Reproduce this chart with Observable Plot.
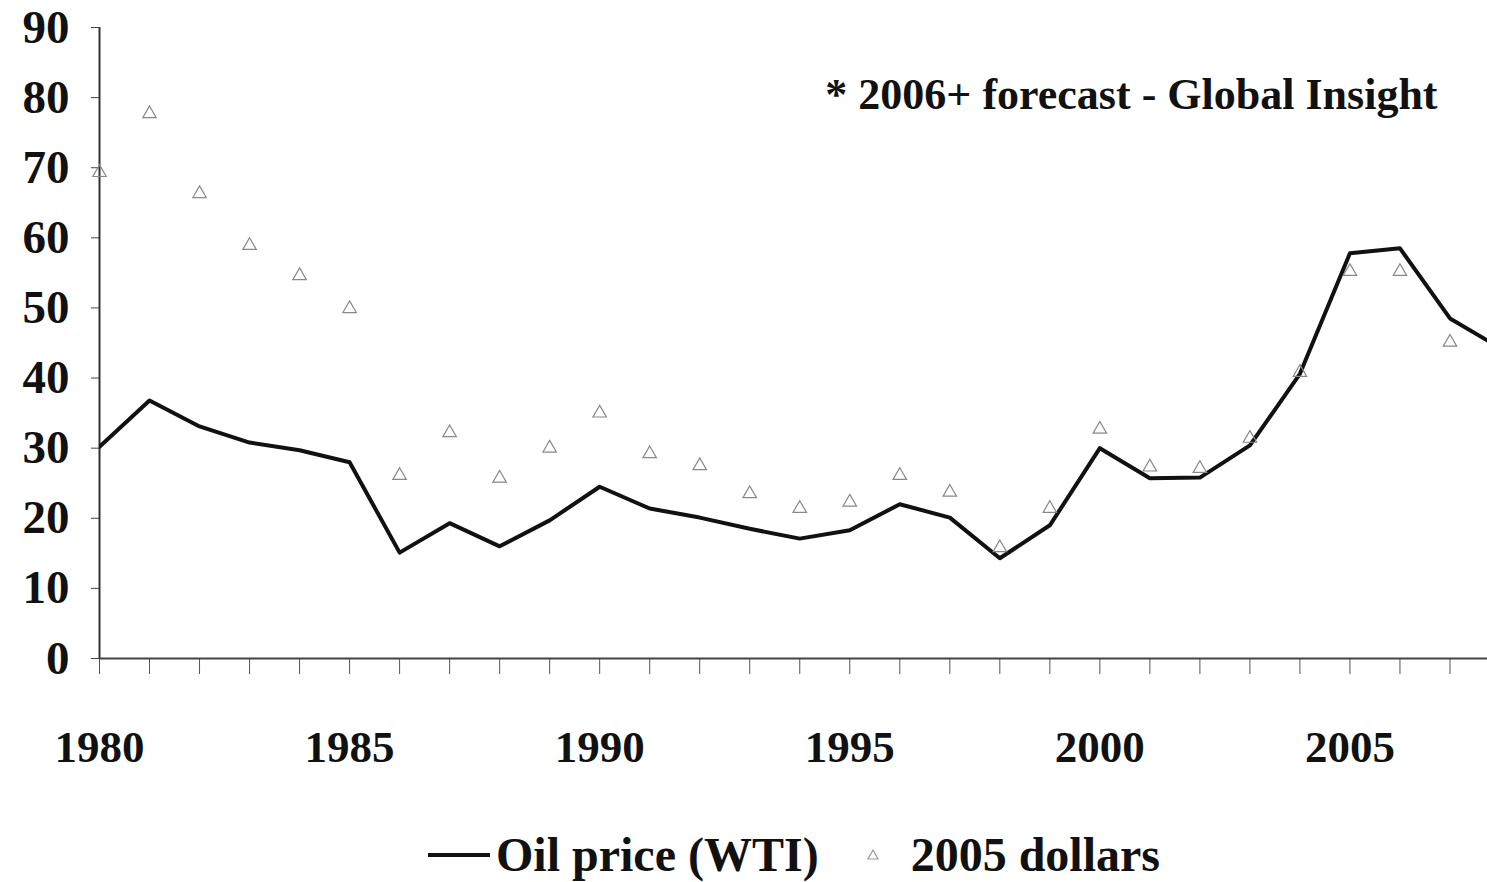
<!DOCTYPE html>
<html>
<head>
<meta charset="utf-8">
<script src="https://cdn.jsdelivr.net/npm/d3@7"></script>
<script src="https://cdn.jsdelivr.net/npm/@observablehq/plot@0.6"></script>
<style>
  html, body { margin: 0; padding: 0; background: #fff; overflow: hidden; }
  #chart { width: 1487px; height: 800px; }
  .legend { box-sizing: border-box; display: flex; justify-content: flex-start; align-items: center; height: 82px;
    padding-left: 426px; padding-top: 28px; line-height: 50px;
    font-family: "Liberation Serif", "Times New Roman", serif; font-weight: bold; font-size: 48px; color: #111; }
  .legend .item { display: flex; align-items: center; }
</style>
</head>
<body>
<div id="chart"></div>
<div class="legend">
  <span class="item"><svg width="70" height="20"><line x1="2" y1="10" x2="64" y2="10" stroke="#111" stroke-width="4"/></svg><span>Oil price (WTI)</span></span>
  <span class="item" style="margin-left:42px"><svg width="24" height="20"><path d="M12,5 L17,14 L7,14 Z" fill="none" stroke="#999" stroke-width="1.2"/></svg><span style="margin-left:26px">2005 dollars</span></span>
</div>
<script>
const years = d3.range(1980, 2009);
const wti = [30.2, 36.8, 33.1, 30.8, 29.7, 28.0, 15.1, 19.3, 16.0, 19.7, 24.5, 21.4, 20.1, 18.5, 17.1, 18.3, 22.0, 20.1, 14.3, 19.0, 30.0, 25.7, 25.8, 30.4, 40.6, 57.8, 58.5, 48.5, 44.3];
const realYears = d3.range(1980, 2008);
const real2005 = [69.3, 77.7, 66.3, 58.9, 54.6, 49.9, 26.1, 32.2, 25.7, 30.0, 35.0, 29.2, 27.5, 23.5, 21.4, 22.3, 26.1, 23.7, 15.8, 21.4, 32.7, 27.3, 27.1, 31.4, 40.8, 55.2, 55.2, 45.1];
const yTicks = [0, 10, 20, 30, 40, 50, 60, 70, 80, 90];
const xLabelTicks = [1980, 1985, 1990, 1995, 2000, 2005];
const note = "* 2006+ forecast - Global Insight";

const lineData = years.map((y, i) => ({year: y, value: wti[i]}));
const dotData = realYears.map((y, i) => ({year: y, value: real2005[i]}));

const chart = Plot.plot({
  width: 1487,
  height: 800,
  marginLeft: 99,
  marginRight: 0,
  marginTop: 27,
  marginBottom: 142,
  style: {fontFamily: "'Liberation Serif', 'Times New Roman', serif", fontWeight: "bold", color: "#111", background: "#fff"},
  x: {domain: [1980, 2007.75]},
  y: {domain: [0, 90]},
  marks: [
    Plot.axisY({ticks: yTicks, tickSize: 8, tickPadding: 22, fontSize: 47, stroke: "#444", label: null}),
    Plot.axisX({ticks: realYears, tickSize: 16, tickFormat: () => "", stroke: "#555", label: null}),
    Plot.axisX({ticks: xLabelTicks, tickSize: 0, tickPadding: 72, fontSize: 45, tickFormat: d => String(d), label: null}),
    Plot.ruleY([0], {stroke: "#444", strokeWidth: 2}),
    Plot.ruleX([1980], {stroke: "#333", strokeWidth: 2}),
    Plot.line(lineData, {x: "year", y: "value", stroke: "#111", strokeWidth: 4, clip: true}),
    Plot.dot(dotData, {x: "year", y: "value", symbol: "triangle", r: 5, fill: "none", stroke: "#888", strokeWidth: 1.2}),
    Plot.text([note], {frameAnchor: "top-right", dx: -50, dy: 50, fontSize: 44, fontWeight: "bold", fill: "#111", text: d => d})
  ]
});
document.getElementById("chart").appendChild(chart);
</script>
</body>
</html>
